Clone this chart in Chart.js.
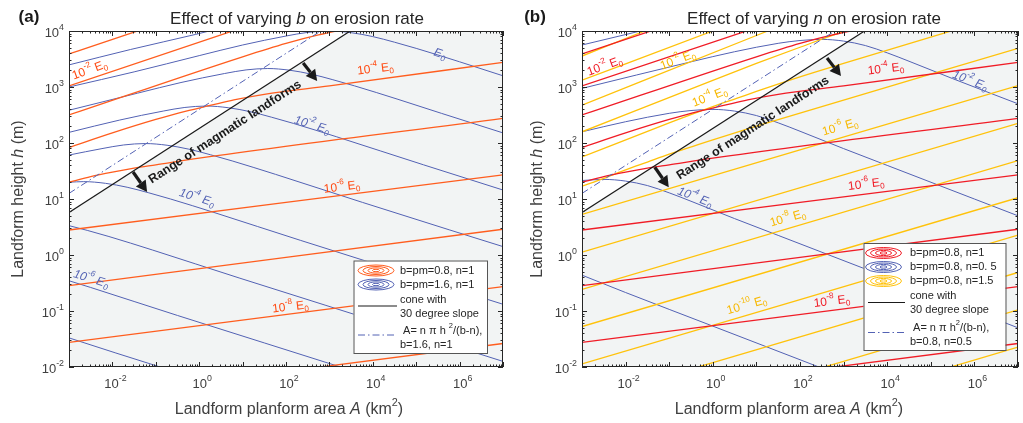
<!DOCTYPE html>
<html lang="en">
<head>
<meta charset="UTF-8">
<title>Effect of varying b and n on erosion rate</title>
<script src="https://cdn.jsdelivr.net/npm/chart.js"></script>
<style>
  body { margin: 0; background: #fff; }
  .wrap { position: relative; width: 1023px; height: 423px; }
  canvas { position: absolute; top: 0; }
  #chartA { left: 0; }
  #chartB { left: 511px; }
</style>
</head>
<body>
<div class="wrap">
  <canvas id="chartA" width="511" height="423"></canvas>
  <canvas id="chartB" width="512" height="423"></canvas>
</div>
<script>
// all values are [log10 A (km2), log10 h (m)]
const xTickExps = [-2, 0, 2, 4, 6];
const yTickExps = [-2, -1, 0, 1, 2, 3, 4];

const coneLine = [[-3, 0.76], [7, 5.76]];
const dashDotLine = [[-3, 1.1], [7, 6.1]];

// b=pm=0.8, n=1 (orange in a, red in b)
const orangeLines = [
  [[-3, -2.58], [7, -1.58]],
  [[-3, -1.56], [7, -0.566]],
  [[-3, -0.548], [7, 0.46]],
  [[-3, 0.446], [7, 1.43]],
  [[-3, 1.30], [-2.5, 1.40], [-2, 1.48], [-1.5, 1.55], [-1, 1.61], [0, 1.73], [7, 2.44]],
  [[-3, 1.92], [-2, 2.18], [-1, 2.42], [-0.3, 2.57], [0.25, 2.67], [0.8, 2.77], [1.5, 2.87], [3, 3.02], [7, 3.44]],
  [[-3, 2.50], [1, 3.54], [2, 3.78], [2.75, 3.93], [3.5, 4.05]],
  [[-3, 3.02], [1, 4.06]],
  [[-3, 3.59], [0, 4.37]]
];

// b=pm=1.6, n=1 (panel a)
const blueLinesA = [
  [[-3, -1.48], [-1.92, -1.75], [0.08, -2.24], [2, -2.71]],
  [[-3, -0.46], [-2.5, -0.58], [-1.5, -0.83], [-0.5, -1.08], [1.5, -1.57], [3.5, -2.06], [7, -2.92]],
  [[-3, 0.524], [-2.58, 0.44], [-2.08, 0.33], [-1.08, 0.09], [-0.08, -0.16], [0.92, -0.41], [2.92, -0.90], [4.92, -1.39], [7, -1.9]],
  [[-3, 1.30], [-2.66, 1.31], [-2.16, 1.28], [-1.66, 1.21], [-1.16, 1.11], [-0.66, 1.0], [0.34, 0.76], [1.34, 0.51], [2.34, 0.26], [4.34, -0.23], [7, -0.88]],
  [[-3, 1.785], [-2.24, 1.90], [-1.74, 1.965], [-1.24, 1.99], [-0.74, 1.96], [-0.24, 1.89], [0.26, 1.79], [0.76, 1.68], [1.76, 1.44], [2.76, 1.19], [3.76, 0.94], [5.76, 0.45], [7, 0.15]],
  [[-3, 2.19], [-1.83, 2.41], [-0.83, 2.57], [-0.33, 2.635], [0.17, 2.66], [0.67, 2.63], [1.17, 2.56], [1.67, 2.46], [2.17, 2.35], [3.17, 2.11], [4.17, 1.86], [5.17, 1.61], [7, 1.16]],
  [[-3, 2.585], [-1.42, 2.89], [-0.42, 3.08], [0.58, 3.24], [1.08, 3.305], [1.58, 3.33], [2.08, 3.30], [2.58, 3.23], [3.08, 3.13], [3.58, 3.02], [4.58, 2.78], [5.58, 2.53], [7, 2.18]],
  [[-3, 3.0], [-1.5, 3.27], [0, 3.56], [1, 3.75], [2, 3.91], [2.5, 3.975], [3, 4.0], [3.5, 3.97], [4, 3.9], [4.5, 3.8], [5, 3.69], [6, 3.45], [7, 3.2]],
  [[-3, 3.395], [-1.58, 3.67], [-0.08, 3.94], [1.42, 4.23]]
];

// b=pm=0.8, n=0.5 (panel b)
const blueLinesB = [
  [[-3, -0.36], [-2, -0.67], [0, -1.27], [2, -1.87], [4, -2.47]],
  [[-3, 1.33], [-2.5, 1.35], [-2, 1.32], [-1.5, 1.24], [-1, 1.11], [-0.5, 0.96], [0.5, 0.65], [1.5, 0.35], [3.5, -0.25], [5.5, -0.85], [7, -1.3]],
  [[-3, 2.2], [-2, 2.38], [-1, 2.53], [-0.5, 2.58], [0, 2.6], [0.5, 2.57], [1, 2.49], [1.5, 2.36], [2, 2.21], [3, 1.9], [4, 1.6], [6, 1.0], [7, 0.7]],
  [[-3, 2.975], [-0.5, 3.45], [0.5, 3.63], [1.5, 3.78], [2, 3.83], [2.5, 3.85], [3, 3.82], [3.5, 3.74], [4, 3.61], [4.5, 3.46], [5.5, 3.15], [7, 2.70]],
  [[-3, 3.75], [-1.5, 4.03], [0, 4.3]]
];

// b=pm=0.8, n=1.5 (panel b)
const yellowLines = [
  [[-3, -3.946], [7, -1.646]],
  [[-3, -3.279], [7, -0.979]],
  [[-3, -2.612], [7, -0.312]],
  [[-3, -1.945], [7, 0.355]],
  [[-3, -1.277], [7, 1.023]],
  [[-3, -0.615], [7, 1.685]],
  [[-3, 0.052], [7, 2.352]],
  [[-3, 0.726], [7, 3.026]],
  [[-3, 1.23], [-2.5, 1.37], [-2, 1.52], [-1.5, 1.66], [-1, 1.80], [0, 2.056], [1, 2.30], [7, 3.69]],
  [[-3, 1.75], [-1, 2.36], [0, 2.65], [0.56, 2.80], [1, 2.92], [2, 3.18], [3, 3.42], [7, 4.36]],
  [[-3, 2.2], [0, 3.12], [1, 3.42], [2, 3.71], [3, 3.99], [4, 4.2]],
  [[-3, 2.676], [1, 3.92], [2, 4.23]],
  [[-3, 3.123], [0, 4.0], [1, 4.3]],
  [[-3, 3.553], [-1.56, 4.0], [-1, 4.17]]
];

const FONT = '"Liberation Sans", Arial, Helvetica, sans-serif';
const ORANGE = '#ff5d1e', RED = '#f01c26', YELLOW = '#ffc20a', BLUE = '#5362b4';
const SHADE = '#f2f4f4', AXIS = '#262626', TXT = '#404040';

function toPts(line) {
  return line.map(p => ({ x: Math.pow(10, p[0]), y: Math.pow(10, p[1]) }));
}

function lineSet(line, color, width, order, extra) {
  return Object.assign({
    data: toPts(line),
    borderColor: color,
    borderWidth: width,
    pointRadius: 0,
    fill: false,
    cubicInterpolationMode: 'monotone',
    order: order
  }, extra || {});
}

// text with superscripts / subscripts / italics
function rich(ctx, parts, x, y, opt) {
  const size = opt.size;
  const segs = parts.map(p => {
    const k = p[1] || 'n';
    const s = (k === 'sup' || k === 'sub') ? size * 0.68 : size;
    const it = (k === 'i' || opt.italic) ? 'italic ' : '';
    const bd = opt.bold ? 'bold ' : '';
    return { t: p[0], k: k, font: it + bd + s + 'px ' + FONT };
  });
  let total = 0;
  segs.forEach(s => { ctx.font = s.font; s.w = ctx.measureText(s.t).width; total += s.w; });
  let cx = opt.align === 'right' ? x - total : (opt.align === 'left' ? x : x - total / 2);
  ctx.textBaseline = 'middle';
  ctx.textAlign = 'left';
  segs.forEach(s => {
    ctx.font = s.font;
    const dy = s.k === 'sup' ? -size * 0.45 : (s.k === 'sub' ? size * 0.32 : 0);
    ctx.fillText(s.t, cx, y + dy);
    cx += s.w;
  });
}

function X(chart, la) { return chart.scales.x.getPixelForValue(Math.pow(10, la)); }
function Y(chart, lh) { return chart.scales.y.getPixelForValue(Math.pow(10, lh)); }

function drawAxes(chart, ctx) {
  const a = chart.chartArea;
  ctx.strokeStyle = AXIS;
  ctx.lineWidth = 1;
  ctx.beginPath();
  for (let d = -3; d <= 7; d++) {
    for (let k = 1; k <= 9; k++) {
      if (d === 7 && k > 1) break;
      const x = Math.round(chart.scales.x.getPixelForValue(k * Math.pow(10, d))) + 0.5;
      const len = k === 1 ? 5 : 2.5;
      ctx.moveTo(x, a.bottom); ctx.lineTo(x, a.bottom - len);
      ctx.moveTo(x, a.top); ctx.lineTo(x, a.top + len);
    }
  }
  for (let d = -2; d <= 4; d++) {
    for (let k = 1; k <= 9; k++) {
      if (d === 4 && k > 1) break;
      const y = Math.round(chart.scales.y.getPixelForValue(k * Math.pow(10, d))) + 0.5;
      const len = k === 1 ? 5 : 2.5;
      ctx.moveTo(a.left, y); ctx.lineTo(a.left + len, y);
      ctx.moveTo(a.right, y); ctx.lineTo(a.right - len, y);
    }
  }
  ctx.stroke();
  ctx.strokeRect(Math.round(a.left) + 0.5, Math.round(a.top) + 0.5,
    Math.round(a.right - a.left) - 1, Math.round(a.bottom - a.top) - 1);

  ctx.fillStyle = TXT;
  xTickExps.forEach(e => {
    rich(ctx, [['10'], [String(e), 'sup']], chart.scales.x.getPixelForValue(Math.pow(10, e)) + 3, a.bottom + 17, { size: 13 });
  });
  yTickExps.forEach(e => {
    rich(ctx, [['10'], [String(e), 'sup']], a.left - 5, chart.scales.y.getPixelForValue(Math.pow(10, e)) + 2, { size: 13, align: 'right' });
  });
}

function drawArrow(ctx, x1, y1, x2, y2) {
  const ang = Math.atan2(y2 - y1, x2 - x1);
  const hl = 11, hw = 6;
  const bx = x2 - hl * Math.cos(ang), by = y2 - hl * Math.sin(ang);
  ctx.strokeStyle = '#1a1a1a';
  ctx.fillStyle = '#1a1a1a';
  ctx.lineWidth = 3.2;
  ctx.beginPath(); ctx.moveTo(x1, y1); ctx.lineTo(bx, by); ctx.stroke();
  ctx.beginPath();
  ctx.moveTo(x2, y2);
  ctx.lineTo(bx + hw * Math.sin(ang), by - hw * Math.cos(ang));
  ctx.lineTo(bx - hw * Math.sin(ang), by + hw * Math.cos(ang));
  ctx.closePath(); ctx.fill();
}

function drawRings(ctx, cx, cy, color) {
  ctx.strokeStyle = color;
  ctx.lineWidth = 1;
  [[18, 5.5], [13, 4], [8, 2.6], [3.5, 1.2]].forEach(r => {
    ctx.beginPath(); ctx.ellipse(cx, cy, r[0], r[1], 0, 0, Math.PI * 2); ctx.stroke();
  });
}

function drawLegend(ctx, L) {
  const b = L.box;
  ctx.fillStyle = '#fff';
  ctx.fillRect(b[0], b[1], b[2] - b[0], b[3] - b[1]);
  ctx.strokeStyle = '#555';
  ctx.lineWidth = 1;
  ctx.strokeRect(b[0] + 0.5, b[1] + 0.5, b[2] - b[0], b[3] - b[1]);
  const o = { size: 11, align: 'left' };
  ctx.fillStyle = '#262626';
  L.rings.forEach(r => {
    drawRings(ctx, L.iconX, r.y, r.color);
    ctx.fillStyle = '#262626';
    rich(ctx, [[r.text]], L.textX, r.y, o);
  });
  ctx.strokeStyle = '#1a1a1a'; ctx.lineWidth = 1.2;
  ctx.beginPath(); ctx.moveTo(L.lineX[0], L.coneY); ctx.lineTo(L.lineX[1], L.coneY); ctx.stroke();
  rich(ctx, [['cone with']], L.textX, L.coneY - 6.5, o);
  rich(ctx, [['30 degree slope']], L.textX, L.coneY + 7.5, o);
  ctx.strokeStyle = BLUE; ctx.lineWidth = 1;
  ctx.setLineDash([7, 3, 1.5, 3]);
  ctx.beginPath(); ctx.moveTo(L.lineX[0], L.dashY); ctx.lineTo(L.lineX[1], L.dashY); ctx.stroke();
  ctx.setLineDash([]);
  rich(ctx, L.formula, L.textX, L.dashY - 4.5, o);
  rich(ctx, [[L.formulaNote]], L.textX, L.dashY + 9.5, o);
}

function makeDecor(P) {
  return {
    id: 'decor',
    afterDatasetsDraw(chart) {
      const ctx = chart.ctx;
      ctx.save();
      // contour labels
      P.labels.forEach(l => {
        ctx.save();
        ctx.translate(X(chart, l.at[0]), Y(chart, l.at[1]));
        ctx.rotate(l.rot * Math.PI / 180);
        ctx.fillStyle = l.color;
        const parts = l.exp === null ? [['E'], ['0', 'sub']] : [['10'], [l.exp, 'sup'], [' E'], ['0', 'sub']];
        rich(ctx, parts, 0, 0, { size: 12, italic: l.italic });
        ctx.restore();
      });
      // range text and arrows
      ctx.save();
      ctx.translate(X(chart, P.rangeAt[0]), Y(chart, P.rangeAt[1]));
      ctx.rotate(-33 * Math.PI / 180);
      ctx.fillStyle = '#1a1a1a';
      rich(ctx, [['Range of magmatic landforms']], 0, 0, { size: 12.5, bold: true });
      ctx.restore();
      P.arrows.forEach(ar => drawArrow(ctx, X(chart, ar[0][0]), Y(chart, ar[0][1]), X(chart, ar[1][0]), Y(chart, ar[1][1])));
      drawLegend(ctx, P.legend);
      drawAxes(chart, ctx);
      // titles
      ctx.fillStyle = '#1a1a1a';
      rich(ctx, [[P.letter]], P.letterAt[0], P.letterAt[1], { size: 17, bold: true });
      ctx.fillStyle = '#262626';
      rich(ctx, P.title, P.titleAt[0], P.titleAt[1], { size: 17 });
      ctx.fillStyle = TXT;
      rich(ctx, [['Landform planform area '], ['A', 'i'], [' (km'], ['2', 'sup'], [')']], P.xTitleAt[0], P.xTitleAt[1], { size: 16 });
      ctx.save();
      ctx.translate(P.yTitleAt[0], P.yTitleAt[1]);
      ctx.rotate(-Math.PI / 2);
      rich(ctx, [['Landform height '], ['h', 'i'], [' (m)']], 0, 0, { size: 16 });
      ctx.restore();
      ctx.restore();
    }
  };
}

function buildChart(id, padding, datasets, P) {
  return new Chart(document.getElementById(id), {
    type: 'line',
    data: { datasets: datasets },
    options: {
      responsive: false,
      animation: false,
      events: [],
      layout: { padding: padding },
      plugins: { legend: { display: false }, tooltip: { enabled: false } },
      scales: {
        x: { type: 'logarithmic', min: 1e-3, max: 1e7, display: false },
        y: { type: 'logarithmic', min: 1e-2, max: 1e4, display: false }
      }
    },
    plugins: [makeDecor(P)]
  });
}

const shadeSet = () => lineSet(coneLine, 'rgba(0,0,0,0)', 0, 100, { fill: 'start', backgroundColor: SHADE });
const coneSet = () => lineSet(coneLine, '#1a1a1a', 1.2, 5);
const dashSet = () => lineSet(dashDotLine, BLUE, 1, 6, { borderDash: [7, 3, 1.5, 3] });

// panel (a)
const datasetsA = [shadeSet()]
  .concat(blueLinesA.map(l => lineSet(l, BLUE, 1, 30)))
  .concat(orangeLines.map(l => lineSet(l, ORANGE, 1.3, 20)))
  .concat([dashSet(), coneSet()]);

buildChart('chartA', { left: 69, right: 8, top: 31, bottom: 56 }, datasetsA, {
  letter: '(a)', letterAt: [29, 17],
  title: [['Effect of varying '], ['b', 'i'], [' on erosion rate']], titleAt: [297, 19],
  xTitleAt: [289, 410], yTitleAt: [19, 199],
  labels: [
    { exp: '-2', at: [-2.52, 3.30], rot: -20, color: '#ff4a12' },
    { exp: '-4', at: [4.06, 3.32], rot: -7, color: '#ff4a12' },
    { exp: '-6', at: [3.29, 1.21], rot: -7, color: '#ff4a12' },
    { exp: '-8', at: [2.10, -0.93], rot: -7, color: '#ff4a12' },
    { exp: null, at: [5.55, 3.59], rot: 18, color: BLUE, italic: true },
    { exp: '-2', at: [2.60, 2.32], rot: 17, color: BLUE, italic: true },
    { exp: '-4', at: [-0.05, 1.02], rot: 17, color: BLUE, italic: true },
    { exp: '-6', at: [-2.49, -0.43], rot: 17, color: BLUE, italic: true }
  ],
  rangeAt: [0.597, 2.196],
  arrows: [[[2.395, 3.43], [2.718, 3.107]], [[-1.524, 1.482], [-1.2, 1.125]]],
  legend: {
    box: [353.5, 260.5, 487, 353], iconX: 376, textX: 400, lineX: [358, 397],
    rings: [{ y: 270.5, color: ORANGE, text: 'b=pm=0.8, n=1' }, { y: 284.5, color: BLUE, text: 'b=pm=1.6, n=1' }],
    coneY: 306, dashY: 335,
    formula: [[' A= n \u03c0 h '], ['2', 'sup'], ['/(b-n),']], formulaNote: 'b=1.6, n=1'
  }
});

// panel (b)
const datasetsB = [shadeSet()]
  .concat(blueLinesB.map(l => lineSet(l, BLUE, 1, 30)))
  .concat(yellowLines.map(l => lineSet(l, YELLOW, 1.3, 25)))
  .concat(orangeLines.map(l => lineSet(l, RED, 1.3, 20)))
  .concat([dashSet(), coneSet()]);

buildChart('chartB', { left: 71, right: 5, top: 31, bottom: 56 }, datasetsB, {
  letter: '(b)', letterAt: [24, 17],
  title: [['Effect of varying '], ['n', 'i'], [' on erosion rate']], titleAt: [303, 19],
  xTitleAt: [278, 410], yTitleAt: [27, 199],
  labels: [
    { exp: '-2', at: [-2.48, 3.37], rot: -20, color: RED },
    { exp: '-4', at: [3.97, 3.32], rot: -7, color: RED },
    { exp: '-6', at: [3.52, 1.26], rot: -7, color: RED },
    { exp: '-8', at: [2.73, -0.83], rot: -7, color: RED },
    { exp: '-2', at: [-0.80, 3.48], rot: -21, color: '#f7b800' },
    { exp: '-4', at: [-0.07, 2.82], rot: -21, color: '#f7b800' },
    { exp: '-6', at: [2.92, 2.28], rot: -16, color: '#f7b800' },
    { exp: '-8', at: [1.72, 0.655], rot: -16, color: '#f7b800' },
    { exp: '-10', at: [0.78, -0.90], rot: -16, color: '#f7b800' },
    { exp: '-2', at: [5.90, 3.11], rot: 21, color: BLUE, italic: true },
    { exp: '-4', at: [-0.41, 1.03], rot: 21, color: BLUE, italic: true }
  ],
  rangeAt: [0.92, 2.265],
  arrows: [[[2.62, 3.517], [2.94, 3.195]], [[-1.33, 1.567], [-1.01, 1.21]]],
  legend: {
    box: [352.5, 243, 494.5, 350], iconX: 372.5, textX: 399, lineX: [357, 394],
    rings: [
      { y: 253, color: RED, text: 'b=pm=0.8, n=1' },
      { y: 267, color: BLUE, text: 'b=pm=0.8, n=0. 5' },
      { y: 281, color: YELLOW, text: 'b=pm=0.8, n=1.5' }
    ],
    coneY: 302.5, dashY: 332.5,
    formula: [[' A= n \u03c0 h'], ['2', 'sup'], ['/(b-n),']], formulaNote: 'b=0.8, n=0.5'
  }
});
</script>
</body>
</html>
